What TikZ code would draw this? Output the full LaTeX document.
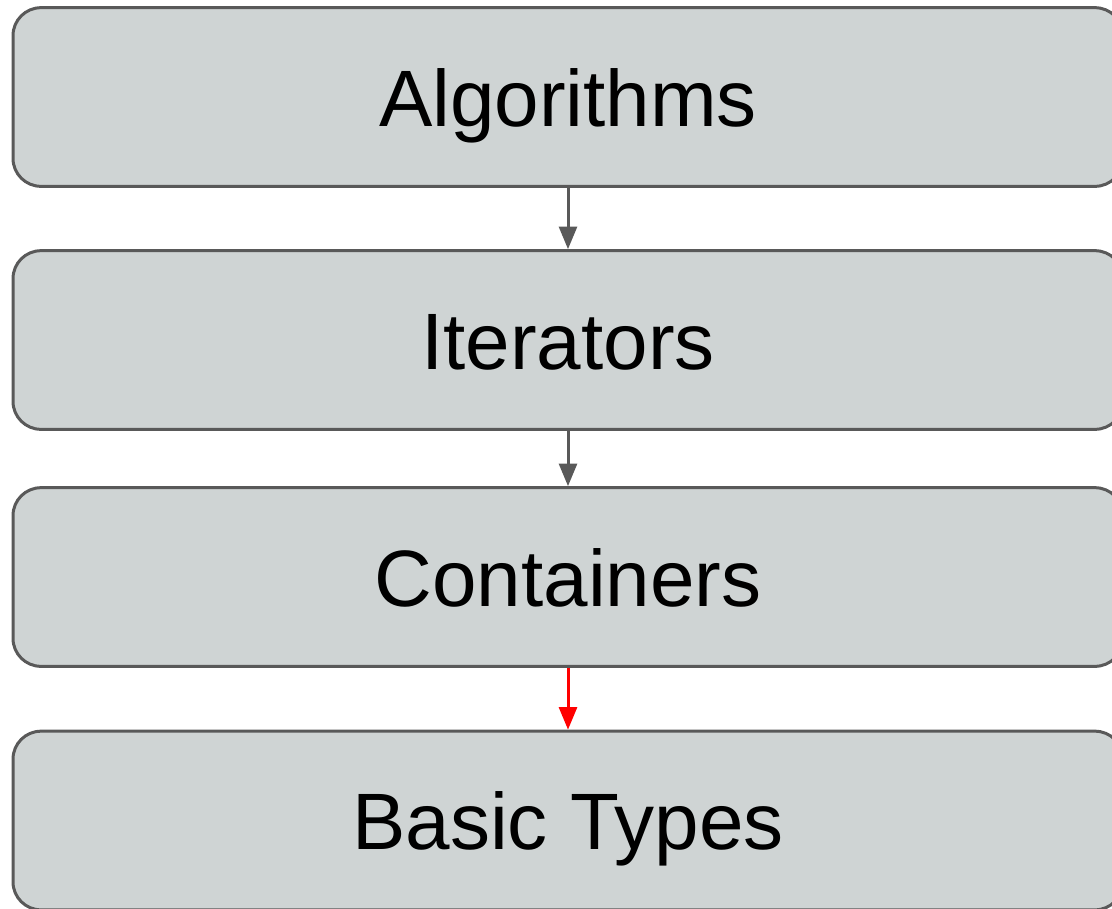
\documentclass[tikz,border=0pt]{standalone}
\usepackage{fontspec}
\setmainfont{Liberation Sans}
\usetikzlibrary{arrows.meta}
\definecolor{boxfill}{RGB}{207,212,212}
\definecolor{boxline}{RGB}{89,89,89}
\tikzset{
  layer/.style={draw=boxline, fill=boxfill, line width=2.25pt, rounded corners=21pt,
    minimum width=832.5pt, minimum height=134pt, inner sep=0pt,
    text height=44pt, text depth=0pt, font=\fontsize{60}{72}\selectfont},
  link/.style={line width=2.25pt, -{Triangle[length=17pt,width=13.5pt]}}
}

\begin{document}
\begin{tikzpicture}[x=0.75pt,y=-0.75pt]
                \useasboundingbox (0,0) rectangle (1112,908);
                \clip (0,0) rectangle (1112,908);
                \node[layer] (algo) at (568,97) {Algorithms};
                \node[layer] (iter) at (568,340) {Iterators};
                \node[layer] (cont) at (568,577) {Containers};
                \node[layer] (basic) at (568,820.5) {Basic Types};
                \draw[link,boxline] (algo) -- (iter);
                \draw[link,boxline] (iter) -- (cont);
                \draw[link,red] (cont) -- (basic);
            \end{tikzpicture}
\end{document}
